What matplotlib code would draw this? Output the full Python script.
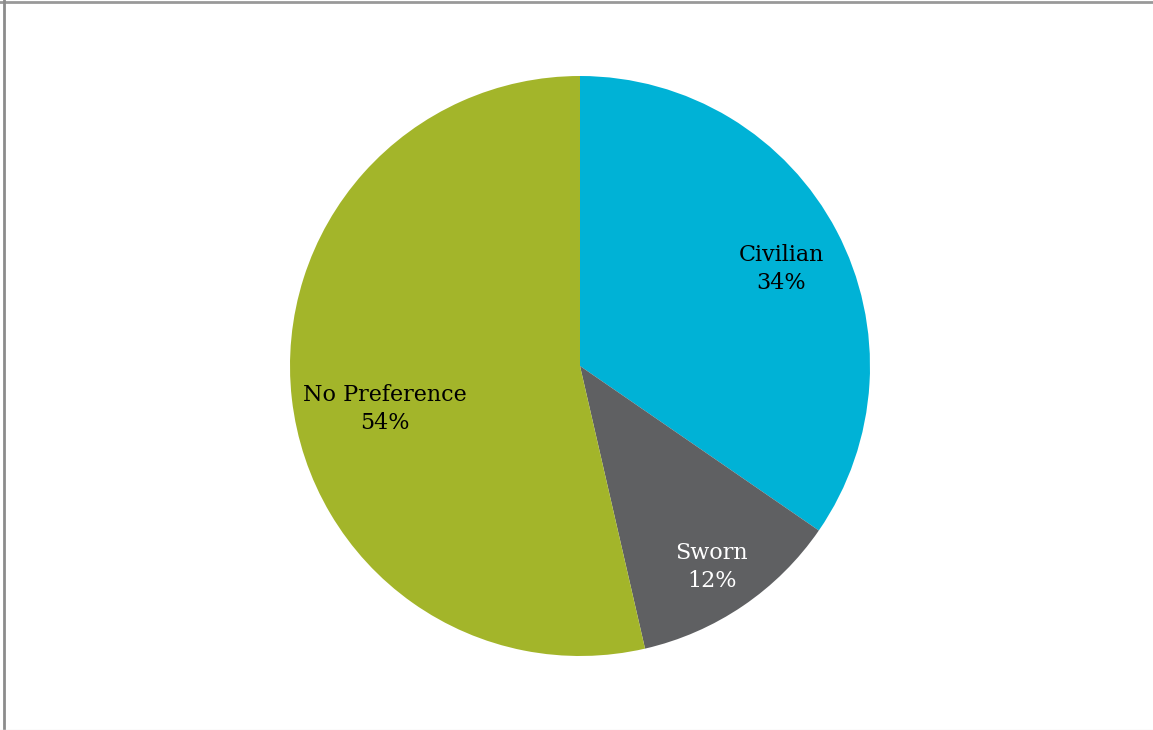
import numpy as np
import matplotlib
matplotlib.use("Agg")
import matplotlib.pyplot as plt
from matplotlib.lines import Line2D

categories = ["Civilian", "Sworn", "No Preference"]
shares = [34.6, 11.8, 53.6]
pct_labels = ["34%", "12%", "54%"]
colors = ["#00B2D6", "#5F6062", "#A3B52A"]
text_colors = ["black", "white", "black"]
label_dist = [0.77, 0.83, 0.69]
label_nudge = [-2, -1, 6]  # degrees

W, H = 1153, 730
fig = plt.figure(figsize=(W / 100, H / 100), dpi=100)
ax = fig.add_axes([290 / W, 74 / H, 580 / W, 580 / H])

wedges, _ = ax.pie(shares, colors=colors, startangle=90, counterclock=False,
                   radius=1.0, wedgeprops=dict(linewidth=0))
ax.set_xlim(-1, 1)
ax.set_ylim(-1, 1)
ax.set_aspect("equal")
ax.axis("off")

for w, cat, pct, tc, d, nd in zip(wedges, categories, pct_labels, text_colors, label_dist, label_nudge):
    mid = np.deg2rad((w.theta1 + w.theta2) / 2 + nd)
    ax.text(d * np.cos(mid), d * np.sin(mid), f"{cat}\n{pct}", ha="center", va="center",
            fontsize=16, color=tc, family="DejaVu Serif", linespacing=1.35)

# outer frame lines
fig.add_artist(Line2D([0, 1], [1 - 1.5 / H, 1 - 1.5 / H], color="#999999", lw=2, transform=fig.transFigure))
fig.add_artist(Line2D([3.5 / W, 3.5 / W], [0, 1], color="#8c8c8c", lw=2, transform=fig.transFigure))
fig.add_artist(Line2D([0, 1], [0.5 / H, 0.5 / H], color="#ececec", lw=1, transform=fig.transFigure))

fig.savefig("out.png", dpi=100)
